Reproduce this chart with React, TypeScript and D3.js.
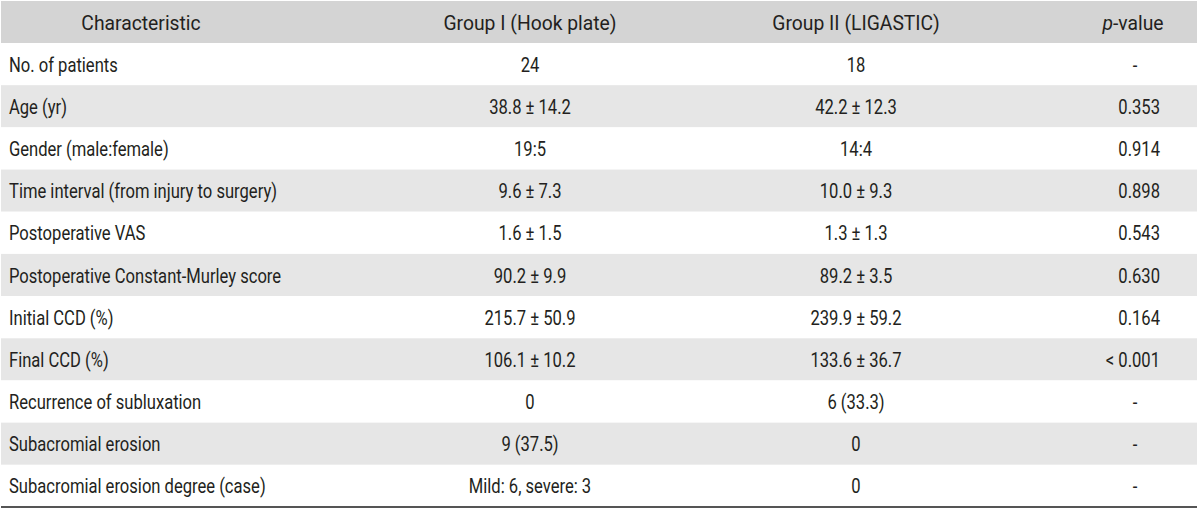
import React from "react";
import * as d3 from "d3";

const width = 1200;
const height = 511;
const table = { left: 1, right: 1197, top: 1, headerBottom: 43, bottom: 507 };

const headers = ["Characteristic", "Group I (Hook plate)", "Group II (LIGASTIC)", "p-value"];

const characteristics = [
  "No. of patients",
  "Age (yr)",
  "Gender (male:female)",
  "Time interval (from injury to surgery)",
  "Postoperative VAS",
  "Postoperative Constant-Murley score",
  "Initial CCD (%)",
  "Final CCD (%)",
  "Recurrence of subluxation",
  "Subacromial erosion",
  "Subacromial erosion degree (case)",
];

const groupI = [
  "24",
  "38.8 ± 14.2",
  "19:5",
  "9.6 ± 7.3",
  "1.6 ± 1.5",
  "90.2 ± 9.9",
  "215.7 ± 50.9",
  "106.1 ± 10.2",
  "0",
  "9 (37.5)",
  "Mild: 6, severe: 3",
];

const groupII = [
  "18",
  "42.2 ± 12.3",
  "14:4",
  "10.0 ± 9.3",
  "1.3 ± 1.3",
  "89.2 ± 3.5",
  "239.9 ± 59.2",
  "133.6 ± 36.7",
  "6 (33.3)",
  "0",
  "0",
];

const pValues = ["-", "0.353", "0.914", "0.898", "0.543", "0.630", "0.164", "< 0.001", "-", "-", "-"];

const font = "Roboto, 'Noto Sans', sans-serif";
const textColor = "#231f20";
const squeeze = 0.79; // fake a condensed face for the body
const headerSqueeze = 0.92; // header set a bit wider

// text squeezed horizontally around its anchor
const Cell = ({ x, y, anchor = "start", sx = squeeze, children }: any) => (
  <g transform={`translate(${x}, ${y}) scale(${sx}, 1)`}>
    <text dy="0.36em" textAnchor={anchor}>
      {children}
    </text>
  </g>
);

export default function App() {
  const rowIdx = d3.range(characteristics.length);
  const y = d3
    .scaleBand<number>()
    .domain(rowIdx)
    .range([table.headerBottom, table.bottom]);

  // column anchors
  const colX = d3
    .scaleOrdinal<string, number>()
    .domain(["label", "header0", "g1", "g2", "p", "pEnd"])
    .range([9, 141, 530, 856, 1133, 1160]);

  const rowFill = (i: number) => (i % 2 === 1 ? "#e6e6e6" : "#ffffff");
  const headerY = (table.top + table.headerBottom) / 2;

  return (
    <svg
      width={width}
      height={height}
      style={{ position: "absolute", left: 0, top: 0, background: "#fff" }}
      fontFamily={font}
      fontSize={21}
      fill={textColor}
    >
      <rect
        x={table.left}
        y={table.top}
        width={table.right - table.left}
        height={table.headerBottom - table.top}
        fill="#d4d4d4"
      />
      <Cell x={colX("header0")} y={headerY} anchor="middle" sx={headerSqueeze}>{headers[0]}</Cell>
      <Cell x={colX("g1")} y={headerY} anchor="middle" sx={headerSqueeze}>{headers[1]}</Cell>
      <Cell x={colX("g2")} y={headerY} anchor="middle" sx={headerSqueeze}>{headers[2]}</Cell>
      <Cell x={colX("p")} y={headerY} anchor="middle" sx={headerSqueeze}>
        <tspan fontStyle="italic">p</tspan>-value
      </Cell>
      {rowIdx.map((i) => {
        const cy = (y(i) as number) + y.bandwidth() / 2;
        return (
          <g key={i}>
            <rect
              x={table.left}
              y={y(i)}
              width={table.right - table.left}
              height={y.bandwidth()}
              fill={rowFill(i)}
            />
            <Cell x={colX("label")} y={cy}>{characteristics[i]}</Cell>
            <Cell x={colX("g1")} y={cy} anchor="middle">{groupI[i]}</Cell>
            <Cell x={colX("g2")} y={cy} anchor="middle">{groupII[i]}</Cell>
            {pValues[i] === "-" ? (
              <Cell x={colX("p") + 2} y={cy} anchor="middle">-</Cell>
            ) : (
              <Cell x={colX("pEnd")} y={cy} anchor="end">{pValues[i]}</Cell>
            )}
          </g>
        );
      })}
      <line
        x1={table.left}
        x2={table.right}
        y1={table.bottom}
        y2={table.bottom}
        stroke="#555"
        strokeWidth={2}
      />
    </svg>
  );
}
